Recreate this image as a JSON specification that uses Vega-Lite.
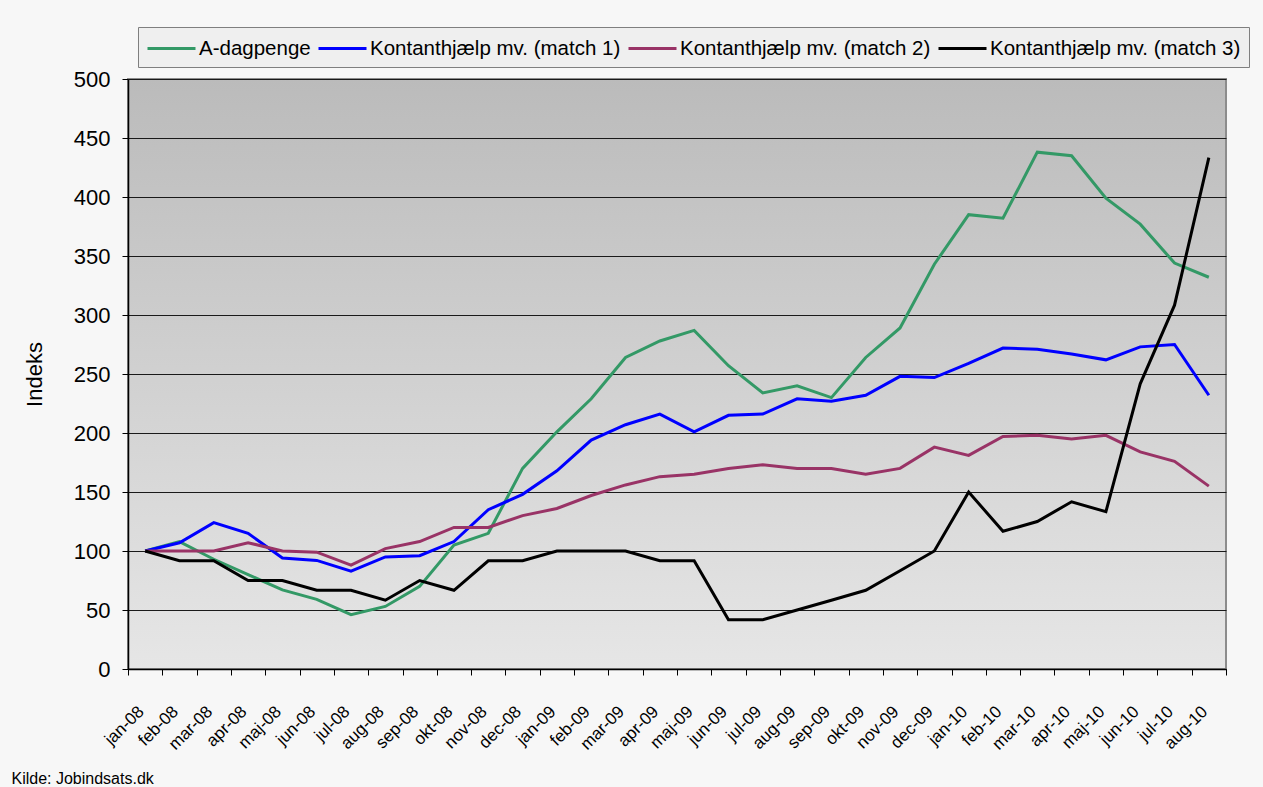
{
  "$schema": "https://vega.github.io/schema/vega-lite/v6.json",
  "width": 1098,
  "height": 590,
  "autosize": {"type": "none"},
  "padding": {"left": 128, "top": 79, "right": 37, "bottom": 118},
  "background": "#f7f7f7",
  "config": {
    "font": "Liberation Sans",
    "view": {
      "stroke": "#8c8c8c",
      "strokeWidth": 2,
      "fill": {"gradient": "linear", "x1": 0, "y1": 0, "x2": 0, "y2": 1, "stops": [{"offset": 0, "color": "#bbbbbb"}, {"offset": 1, "color": "#e6e6e6"}]}
    },
    "axis": {"labelColor": "black", "titleColor": "black", "domainColor": "black", "tickColor": "black", "labelFont": "Liberation Sans", "titleFont": "Liberation Sans"}
  },
  "data": {
    "values": [
      {"month": "jan-08", "series": "A-dagpenge", "value": 100},
      {"month": "feb-08", "series": "A-dagpenge", "value": 108},
      {"month": "mar-08", "series": "A-dagpenge", "value": 93},
      {"month": "apr-08", "series": "A-dagpenge", "value": 80},
      {"month": "maj-08", "series": "A-dagpenge", "value": 67},
      {"month": "jun-08", "series": "A-dagpenge", "value": 59},
      {"month": "jul-08", "series": "A-dagpenge", "value": 46},
      {"month": "aug-08", "series": "A-dagpenge", "value": 53},
      {"month": "sep-08", "series": "A-dagpenge", "value": 70},
      {"month": "okt-08", "series": "A-dagpenge", "value": 105},
      {"month": "nov-08", "series": "A-dagpenge", "value": 115},
      {"month": "dec-08", "series": "A-dagpenge", "value": 170},
      {"month": "jan-09", "series": "A-dagpenge", "value": 201},
      {"month": "feb-09", "series": "A-dagpenge", "value": 229},
      {"month": "mar-09", "series": "A-dagpenge", "value": 264},
      {"month": "apr-09", "series": "A-dagpenge", "value": 278},
      {"month": "maj-09", "series": "A-dagpenge", "value": 287},
      {"month": "jun-09", "series": "A-dagpenge", "value": 257},
      {"month": "jul-09", "series": "A-dagpenge", "value": 234},
      {"month": "aug-09", "series": "A-dagpenge", "value": 240},
      {"month": "sep-09", "series": "A-dagpenge", "value": 230},
      {"month": "okt-09", "series": "A-dagpenge", "value": 264},
      {"month": "nov-09", "series": "A-dagpenge", "value": 289},
      {"month": "dec-09", "series": "A-dagpenge", "value": 343},
      {"month": "jan-10", "series": "A-dagpenge", "value": 385},
      {"month": "feb-10", "series": "A-dagpenge", "value": 382},
      {"month": "mar-10", "series": "A-dagpenge", "value": 438},
      {"month": "apr-10", "series": "A-dagpenge", "value": 435},
      {"month": "maj-10", "series": "A-dagpenge", "value": 399},
      {"month": "jun-10", "series": "A-dagpenge", "value": 377},
      {"month": "jul-10", "series": "A-dagpenge", "value": 344},
      {"month": "aug-10", "series": "A-dagpenge", "value": 332},
      {"month": "jan-08", "series": "Kontanthjælp mv. (match 1)", "value": 100},
      {"month": "feb-08", "series": "Kontanthjælp mv. (match 1)", "value": 107},
      {"month": "mar-08", "series": "Kontanthjælp mv. (match 1)", "value": 124},
      {"month": "apr-08", "series": "Kontanthjælp mv. (match 1)", "value": 115},
      {"month": "maj-08", "series": "Kontanthjælp mv. (match 1)", "value": 94},
      {"month": "jun-08", "series": "Kontanthjælp mv. (match 1)", "value": 92},
      {"month": "jul-08", "series": "Kontanthjælp mv. (match 1)", "value": 83},
      {"month": "aug-08", "series": "Kontanthjælp mv. (match 1)", "value": 95},
      {"month": "sep-08", "series": "Kontanthjælp mv. (match 1)", "value": 96},
      {"month": "okt-08", "series": "Kontanthjælp mv. (match 1)", "value": 108},
      {"month": "nov-08", "series": "Kontanthjælp mv. (match 1)", "value": 135},
      {"month": "dec-08", "series": "Kontanthjælp mv. (match 1)", "value": 148},
      {"month": "jan-09", "series": "Kontanthjælp mv. (match 1)", "value": 168},
      {"month": "feb-09", "series": "Kontanthjælp mv. (match 1)", "value": 194},
      {"month": "mar-09", "series": "Kontanthjælp mv. (match 1)", "value": 207},
      {"month": "apr-09", "series": "Kontanthjælp mv. (match 1)", "value": 216},
      {"month": "maj-09", "series": "Kontanthjælp mv. (match 1)", "value": 201},
      {"month": "jun-09", "series": "Kontanthjælp mv. (match 1)", "value": 215},
      {"month": "jul-09", "series": "Kontanthjælp mv. (match 1)", "value": 216},
      {"month": "aug-09", "series": "Kontanthjælp mv. (match 1)", "value": 229},
      {"month": "sep-09", "series": "Kontanthjælp mv. (match 1)", "value": 227},
      {"month": "okt-09", "series": "Kontanthjælp mv. (match 1)", "value": 232},
      {"month": "nov-09", "series": "Kontanthjælp mv. (match 1)", "value": 248},
      {"month": "dec-09", "series": "Kontanthjælp mv. (match 1)", "value": 247},
      {"month": "jan-10", "series": "Kontanthjælp mv. (match 1)", "value": 259},
      {"month": "feb-10", "series": "Kontanthjælp mv. (match 1)", "value": 272},
      {"month": "mar-10", "series": "Kontanthjælp mv. (match 1)", "value": 271},
      {"month": "apr-10", "series": "Kontanthjælp mv. (match 1)", "value": 267},
      {"month": "maj-10", "series": "Kontanthjælp mv. (match 1)", "value": 262},
      {"month": "jun-10", "series": "Kontanthjælp mv. (match 1)", "value": 273},
      {"month": "jul-10", "series": "Kontanthjælp mv. (match 1)", "value": 275},
      {"month": "aug-10", "series": "Kontanthjælp mv. (match 1)", "value": 232},
      {"month": "jan-08", "series": "Kontanthjælp mv. (match 2)", "value": 100},
      {"month": "feb-08", "series": "Kontanthjælp mv. (match 2)", "value": 100},
      {"month": "mar-08", "series": "Kontanthjælp mv. (match 2)", "value": 100},
      {"month": "apr-08", "series": "Kontanthjælp mv. (match 2)", "value": 107},
      {"month": "maj-08", "series": "Kontanthjælp mv. (match 2)", "value": 100},
      {"month": "jun-08", "series": "Kontanthjælp mv. (match 2)", "value": 99},
      {"month": "jul-08", "series": "Kontanthjælp mv. (match 2)", "value": 88},
      {"month": "aug-08", "series": "Kontanthjælp mv. (match 2)", "value": 102},
      {"month": "sep-08", "series": "Kontanthjælp mv. (match 2)", "value": 108},
      {"month": "okt-08", "series": "Kontanthjælp mv. (match 2)", "value": 120},
      {"month": "nov-08", "series": "Kontanthjælp mv. (match 2)", "value": 120},
      {"month": "dec-08", "series": "Kontanthjælp mv. (match 2)", "value": 130},
      {"month": "jan-09", "series": "Kontanthjælp mv. (match 2)", "value": 136},
      {"month": "feb-09", "series": "Kontanthjælp mv. (match 2)", "value": 147},
      {"month": "mar-09", "series": "Kontanthjælp mv. (match 2)", "value": 156},
      {"month": "apr-09", "series": "Kontanthjælp mv. (match 2)", "value": 163},
      {"month": "maj-09", "series": "Kontanthjælp mv. (match 2)", "value": 165},
      {"month": "jun-09", "series": "Kontanthjælp mv. (match 2)", "value": 170},
      {"month": "jul-09", "series": "Kontanthjælp mv. (match 2)", "value": 173},
      {"month": "aug-09", "series": "Kontanthjælp mv. (match 2)", "value": 170},
      {"month": "sep-09", "series": "Kontanthjælp mv. (match 2)", "value": 170},
      {"month": "okt-09", "series": "Kontanthjælp mv. (match 2)", "value": 165},
      {"month": "nov-09", "series": "Kontanthjælp mv. (match 2)", "value": 170},
      {"month": "dec-09", "series": "Kontanthjælp mv. (match 2)", "value": 188},
      {"month": "jan-10", "series": "Kontanthjælp mv. (match 2)", "value": 181},
      {"month": "feb-10", "series": "Kontanthjælp mv. (match 2)", "value": 197},
      {"month": "mar-10", "series": "Kontanthjælp mv. (match 2)", "value": 198},
      {"month": "apr-10", "series": "Kontanthjælp mv. (match 2)", "value": 195},
      {"month": "maj-10", "series": "Kontanthjælp mv. (match 2)", "value": 198},
      {"month": "jun-10", "series": "Kontanthjælp mv. (match 2)", "value": 184},
      {"month": "jul-10", "series": "Kontanthjælp mv. (match 2)", "value": 176},
      {"month": "aug-10", "series": "Kontanthjælp mv. (match 2)", "value": 155},
      {"month": "jan-08", "series": "Kontanthjælp mv. (match 3)", "value": 100},
      {"month": "feb-08", "series": "Kontanthjælp mv. (match 3)", "value": 91.7},
      {"month": "mar-08", "series": "Kontanthjælp mv. (match 3)", "value": 91.7},
      {"month": "apr-08", "series": "Kontanthjælp mv. (match 3)", "value": 75},
      {"month": "maj-08", "series": "Kontanthjælp mv. (match 3)", "value": 75},
      {"month": "jun-08", "series": "Kontanthjælp mv. (match 3)", "value": 66.7},
      {"month": "jul-08", "series": "Kontanthjælp mv. (match 3)", "value": 66.7},
      {"month": "aug-08", "series": "Kontanthjælp mv. (match 3)", "value": 58.3},
      {"month": "sep-08", "series": "Kontanthjælp mv. (match 3)", "value": 75},
      {"month": "okt-08", "series": "Kontanthjælp mv. (match 3)", "value": 66.7},
      {"month": "nov-08", "series": "Kontanthjælp mv. (match 3)", "value": 91.7},
      {"month": "dec-08", "series": "Kontanthjælp mv. (match 3)", "value": 91.7},
      {"month": "jan-09", "series": "Kontanthjælp mv. (match 3)", "value": 100},
      {"month": "feb-09", "series": "Kontanthjælp mv. (match 3)", "value": 100},
      {"month": "mar-09", "series": "Kontanthjælp mv. (match 3)", "value": 100},
      {"month": "apr-09", "series": "Kontanthjælp mv. (match 3)", "value": 91.7},
      {"month": "maj-09", "series": "Kontanthjælp mv. (match 3)", "value": 91.7},
      {"month": "jun-09", "series": "Kontanthjælp mv. (match 3)", "value": 41.7},
      {"month": "jul-09", "series": "Kontanthjælp mv. (match 3)", "value": 41.7},
      {"month": "aug-09", "series": "Kontanthjælp mv. (match 3)", "value": 50},
      {"month": "sep-09", "series": "Kontanthjælp mv. (match 3)", "value": 58.3},
      {"month": "okt-09", "series": "Kontanthjælp mv. (match 3)", "value": 66.7},
      {"month": "nov-09", "series": "Kontanthjælp mv. (match 3)", "value": 83.3},
      {"month": "dec-09", "series": "Kontanthjælp mv. (match 3)", "value": 100},
      {"month": "jan-10", "series": "Kontanthjælp mv. (match 3)", "value": 150},
      {"month": "feb-10", "series": "Kontanthjælp mv. (match 3)", "value": 116.7},
      {"month": "mar-10", "series": "Kontanthjælp mv. (match 3)", "value": 125},
      {"month": "apr-10", "series": "Kontanthjælp mv. (match 3)", "value": 141.7},
      {"month": "maj-10", "series": "Kontanthjælp mv. (match 3)", "value": 133.3},
      {"month": "jun-10", "series": "Kontanthjælp mv. (match 3)", "value": 241.7},
      {"month": "jul-10", "series": "Kontanthjælp mv. (match 3)", "value": 308.3},
      {"month": "aug-10", "series": "Kontanthjælp mv. (match 3)", "value": 433.3}
    ]
  },
  "mark": {"type": "line", "strokeWidth": 3},
  "encoding": {
    "x": {
      "field": "month",
      "type": "ordinal",
      "sort": null,
      "bandPosition": 0.5,
      "scale": {"type": "band", "paddingInner": 0, "paddingOuter": 0},
      "axis": {
        "title": "Kilde: Jobindsats.dk",
        "titleX": -117,
        "titleY": 114,
        "titleAlign": "left",
        "titleBaseline": "alphabetic",
        "titleFontSize": 16,
        "titleFontWeight": "normal",
        "labelAngle": -45,
        "labelFontSize": 17,
        "labelPadding": 28,
        "labelOffset": -10,
        "labelOverlap": false,
        "labelFlush": false,
        "labelBound": false,
        "tickBand": "extent",
        "tickSize": 6,
        "domainWidth": 1.5,
        "grid": false
      }
    },
    "y": {
      "field": "value",
      "type": "quantitative",
      "scale": {"domain": [0, 500], "nice": false, "zero": true},
      "axis": {
        "title": "Indeks",
        "titleFontSize": 22,
        "titleFontWeight": "normal",
        "titlePadding": 27,
        "values": [0, 50, 100, 150, 200, 250, 300, 350, 400, 450, 500],
        "labelFontSize": 22,
        "labelPadding": 12,
        "tickSize": 6,
        "domainWidth": 1.5,
        "grid": true,
        "gridColor": "#1a1a1a",
        "gridWidth": 1
      }
    },
    "color": {
      "field": "series",
      "type": "nominal",
      "scale": {
        "domain": ["A-dagpenge", "Kontanthjælp mv. (match 1)", "Kontanthjælp mv. (match 2)", "Kontanthjælp mv. (match 3)"],
        "range": ["#339966", "#0000ff", "#993366", "#000000"]
      },
      "legend": {
        "title": null,
        "orient": "none",
        "legendX": 10,
        "legendY": -52,
        "direction": "horizontal",
        "symbolType": "M-1,0L3,0",
        "symbolSize": 576,
        "symbolStrokeWidth": 3,
        "labelFontSize": 20.5,
        "labelFont": "Liberation Sans",
        "labelColor": "black",
        "labelLimit": 400,
        "labelOffset": 26,
        "columnPadding": 1,
        "padding": 8,
        "fillColor": "#efefef",
        "strokeColor": "#7f7f7f"
      }
    }
  }
}
